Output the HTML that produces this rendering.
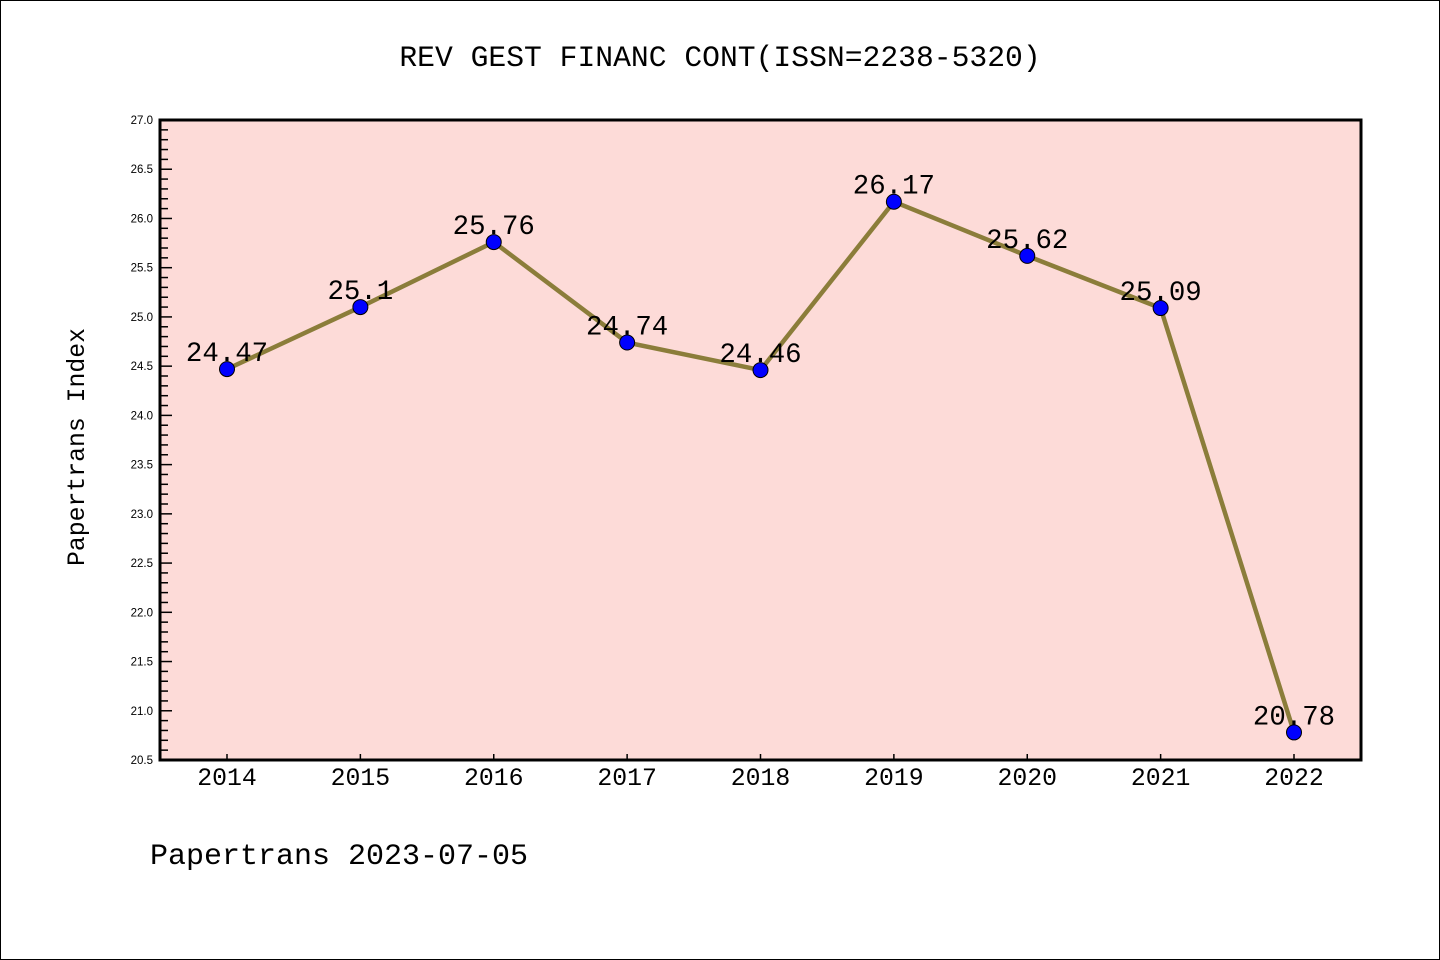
<!DOCTYPE html>
<html><head><meta charset="utf-8"><style>
body{margin:0;background:#fff}
svg{display:block;font-family:"WenQuanYi Zen Hei Mono","Liberation Mono",monospace}
.sans{font-family:"Liberation Sans",sans-serif}
</style></head><body>
<svg id="chart" width="1440" height="960" viewBox="0 0 1440 960">
<rect x="0.5" y="0.5" width="1439" height="959" fill="#fff" stroke="#000" stroke-width="1"/>
<text x="720" y="66" text-anchor="middle" font-size="29.7">REV GEST FINANC CONT(ISSN=2238-5320)</text>
<rect x="160" y="120" width="1201" height="640" fill="#fddbd8"/>
<g id="yaxis"></g>
<g id="xaxis"></g>
<g id="series"></g>
<rect x="160" y="120" width="1201" height="640" fill="none" stroke="#000" stroke-width="3"/>
<text transform="translate(84,447) rotate(-90)" text-anchor="middle" font-size="24.8">Papertrans Index</text>
<text x="150" y="864" font-size="30">Papertrans 2023-07-05</text>
</svg>
<script>
const years=["2014","2015","2016","2017","2018","2019","2020","2021","2022"];
const values=[24.47,25.1,25.76,24.74,24.46,26.17,25.62,25.09,20.78];
const valueLabels=["24.47","25.1","25.76","24.74","24.46","26.17","25.62","25.09","20.78"];
const yTicks=["20.5","21.0","21.5","22.0","22.5","23.0","23.5","24.0","24.5","25.0","25.5","26.0","26.5","27.0"];
(function(){
const NS="http://www.w3.org/2000/svg";
const yMin=20.5,yMax=27.0,pTop=120,pBot=760,pLeft=160;
const y=v=>pBot-(v-yMin)/(yMax-yMin)*(pBot-pTop);
const x=i=>227+i*(1294-227)/(years.length-1);
function mk(t,a,p){const e=document.createElementNS(NS,t);for(const k in a)e.setAttribute(k,a[k]);p.appendChild(e);return e;}
const ya=document.getElementById('yaxis'),xa=document.getElementById('xaxis'),sg=document.getElementById('series');
for(let k=0;k<=65;k++){const v=yMin+k*0.1;const major=k%5===0;
 const l=mk('line',{x1:pLeft,x2:pLeft+(major?12:8),y1:y(v),y2:y(v),stroke:'#000','stroke-width':1.5},ya);
 
 }
yTicks.forEach(t=>{const e=mk('text',{x:pLeft-7,y:y(parseFloat(t))+4,'text-anchor':'end','font-size':11.5,'class':'sans'},ya);e.textContent=t;
 
 });
years.forEach((yr,i)=>{const l=mk('line',{x1:x(i),x2:x(i),y1:pBot,y2:pBot-6,stroke:'#000','stroke-width':1.5},xa);
 
 
 const e=mk('text',{x:x(i),y:785,'text-anchor':'middle','font-size':24.8},xa);e.textContent=yr;
 
 });
const pl=mk('polyline',{points:values.map((v,i)=>x(i)+','+y(v)).join(' '),fill:'none',stroke:'#8b7d3a','stroke-width':4.5,'stroke-linejoin':'round'},sg);


values.forEach((v,i)=>{const c=mk('circle',{cx:x(i),cy:y(v),r:7.5,fill:'#0000ff',stroke:'#000','stroke-width':1},sg);
 
 
 const t=mk('text',{x:x(i),y:y(v)-8,'text-anchor':'middle','font-size':27.4},sg);t.textContent=valueLabels[i];
 
 });
})();
</script>
</body></html>
